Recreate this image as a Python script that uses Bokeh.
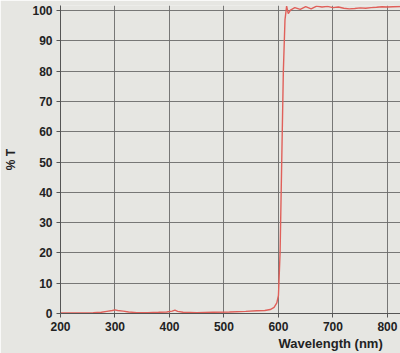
from bokeh.plotting import figure
from bokeh.models import Range1d, FixedTicker, ColumnDataSource, Title
from bokeh.embed import file_html
from bokeh.resources import INLINE

wavelength = [200, 220, 240, 260, 275, 285, 295, 300, 305, 315, 325, 340, 360, 380, 395, 405, 410, 415, 425, 450,
              480, 510, 540, 560, 575, 585, 592, 597, 600, 603, 606, 609, 612, 615, 618, 622,
              630, 640, 650, 660, 670, 680, 690, 700, 710, 720, 730, 740, 750, 760, 770, 780, 790, 800, 810, 824]
transmission = [0.2, 0.2, 0.2, 0.3, 0.4, 0.7, 1.0, 1.2, 1.0, 0.8, 0.5, 0.3, 0.3, 0.4, 0.5, 0.8, 1.1, 0.7, 0.4, 0.3,
                0.4, 0.5, 0.7, 0.9, 1.0, 1.3, 2.0, 3.5, 6.0, 20.0, 50.0, 80.0, 97.0, 101.5, 99.0, 100.2,
                101.0, 100.4, 101.3, 100.6, 101.5, 101.2, 101.4, 101.0, 101.2, 100.8, 100.6, 100.7, 100.9, 100.8, 101.0, 101.1, 101.3, 101.2, 101.3, 101.4]
x_ticks = [200, 300, 400, 500, 600, 700, 800]
y_ticks = [0, 10, 20, 30, 40, 50, 60, 70, 80, 90, 100]

src = ColumnDataSource(dict(x=wavelength, y=transmission))

p = figure(width=400, height=353, output_backend="svg", toolbar_location=None,
           x_range=Range1d(200, 824), y_range=Range1d(0, 101.7),
           min_border_left=60, min_border_right=0, min_border_top=5, min_border_bottom=40)
p.background_fill_color = "#e6e6e2"
p.border_fill_color = "#e6e6e2"
p.outline_line_color = None

p.line("x", "y", source=src, line_color="#e0605a", line_width=1.4)

for ax in (p.xaxis[0], p.yaxis[0]):
    ax.major_label_text_font = "Liberation Sans"
    ax.major_label_text_font_style = "bold"
    ax.major_label_text_font_size = "12px"
    ax.major_label_text_color = "#222222"
    ax.axis_line_color = "#555555"
    ax.major_tick_line_color = "#555555"
    ax.minor_tick_line_color = None
    ax.major_tick_out = 4
    ax.major_tick_in = 0
    ax.axis_label_text_font = "Liberation Sans"
    ax.axis_label_text_font_style = "bold"
    ax.axis_label_text_font_size = "12px"
    ax.axis_label_text_color = "#222222"

p.xaxis.ticker = FixedTicker(ticks=x_ticks)
p.yaxis.ticker = FixedTicker(ticks=y_ticks)
p.xaxis.major_label_standoff = 4
p.yaxis.axis_label = "% T"
p.yaxis.axis_label_standoff = 11
p.yaxis.major_label_standoff = 4

xtitle = Title(text="Wavelength (nm)", align="left", offset=218, standoff=0,
               text_font="Liberation Sans", text_font_style="bold", text_font_size="13px",
               text_color="#222222")
p.add_layout(xtitle, "below")

p.xgrid.ticker = FixedTicker(ticks=x_ticks)
p.ygrid.ticker = FixedTicker(ticks=y_ticks)
p.grid.grid_line_color = "#6a6a6a"
p.grid.grid_line_alpha = 0.9
p.grid.grid_line_width = 1

open("out.html", "w").write(file_html(p, INLINE))
